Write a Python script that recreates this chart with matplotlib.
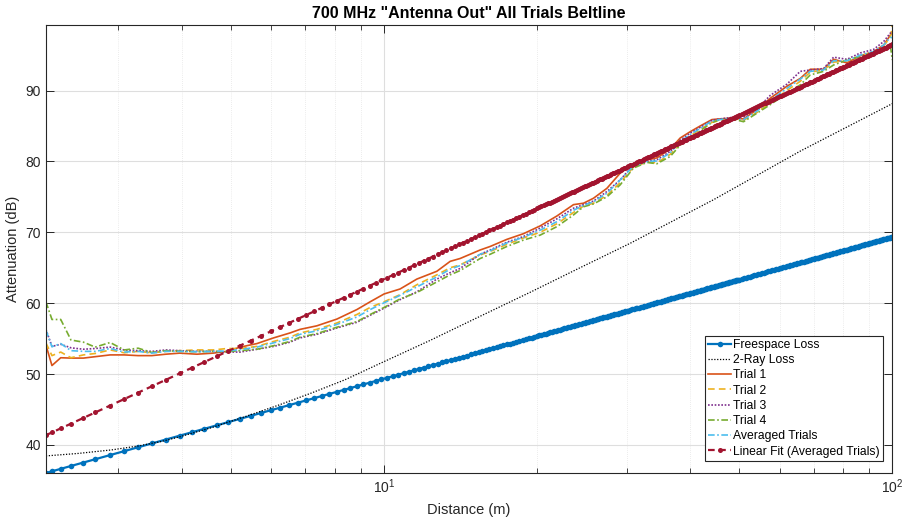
import matplotlib
matplotlib.use("Agg")
import matplotlib.pyplot as plt
from matplotlib.ticker import NullLocator, LogLocator

plt.rcParams['font.family'] = ['Liberation Sans', 'DejaVu Sans']
plt.rcParams['mathtext.fontset'] = 'custom'
plt.rcParams['mathtext.rm'] = 'Liberation Sans'

# ---------------- data ----------------
# sample distances (m) of the model curves and of the linear fit (part A)
model_dist = [
    2.16, 2.22, 2.31, 2.42, 2.56, 2.70, 2.89, 3.08, 3.28, 3.49, 3.72, 3.96, 4.19, 4.42,
    4.68, 4.94, 5.20, 5.46, 5.72, 5.98, 6.24, 6.50, 6.76, 7.02, 7.28, 7.54, 7.80, 8.06,
    8.32, 8.58, 8.84, 9.10, 9.36, 9.62, 9.88, 10.14, 10.40, 10.66, 10.92, 11.18, 11.44,
    11.70, 11.96, 12.22, 12.48, 12.74, 13.00,
    13.26, 13.52, 13.78, 14.04, 14.30, 14.56, 14.82, 15.08, 15.34, 15.60, 15.86, 16.12,
    16.38, 16.64, 16.90, 17.16, 17.42, 17.68, 17.94, 18.20, 18.46, 18.72, 18.98, 19.24,
    19.50, 19.76, 20.02,
    20.4, 20.8, 21.2, 21.6, 22.0, 22.4, 22.8, 23.2, 23.6, 24.0, 24.4, 24.8, 25.2, 25.6,
    26.0, 26.4, 26.8, 27.2, 27.6, 28.0, 28.4, 28.8, 29.2, 29.6, 30.0,
    30.5, 31.0, 31.5, 32.0, 32.5, 33.0, 33.5, 34.0, 34.5, 35.0, 35.5, 36.0, 36.5, 37.0,
    37.5, 38.0, 38.5, 39.0, 39.5, 40.0, 40.5, 41.0, 41.5, 42.0, 42.5, 43.0, 43.5, 44.0,
    44.5, 45.0, 45.5, 46.0, 46.5, 47.0, 47.5, 48.0, 48.5, 49.0, 49.5, 50.0,
    51, 52, 53, 54, 55, 56, 57, 58, 59, 60, 61, 62, 63, 64, 65, 66, 67, 68, 69, 70,
    71, 72, 73, 74, 75, 76, 77, 78, 79, 80, 81, 82, 83, 84, 85, 86, 87, 88, 89, 90,
    91, 92, 93, 94, 95, 96, 97, 98, 99, 100,
]

freespace_db = [
    36.04, 36.28, 36.62, 37.03, 37.51, 37.98, 38.57, 39.12, 39.67, 40.21, 40.76, 41.30, 41.79, 42.26,
    42.75, 43.22, 43.67, 44.09, 44.50, 44.88, 45.25, 45.61, 45.95, 46.28, 46.59, 46.90, 47.19, 47.48,
    47.75, 48.02, 48.28, 48.53, 48.78, 49.01, 49.25, 49.47, 49.69, 49.91, 50.11, 50.32, 50.52,
    50.71, 50.90, 51.09, 51.27, 51.45, 51.63,
    51.80, 51.97, 52.14, 52.30, 52.46, 52.61, 52.77, 52.92, 53.07, 53.21, 53.36, 53.50,
    53.64, 53.77, 53.91, 54.04, 54.17, 54.30, 54.43, 54.55, 54.67, 54.80, 54.92, 55.03,
    55.15, 55.27, 55.38,
    55.54, 55.71, 55.88, 56.04, 56.20, 56.36, 56.51, 56.66, 56.81, 56.95, 57.10, 57.24, 57.38, 57.51,
    57.65, 57.78, 57.91, 58.04, 58.17, 58.29, 58.42, 58.54, 58.66, 58.78, 58.89,
    59.04, 59.18, 59.32, 59.45, 59.59, 59.72, 59.85, 59.98, 60.11, 60.23, 60.35, 60.48, 60.60, 60.71,
    60.83, 60.95, 61.06, 61.17, 61.28, 61.39, 61.50, 61.61, 61.71, 61.82, 61.92, 62.02, 62.12, 62.22,
    62.32, 62.41, 62.51, 62.61, 62.70, 62.79, 62.88, 62.97, 63.06, 63.15, 63.24, 63.33,
    63.50, 63.67, 63.84, 64.00, 64.16, 64.31, 64.47, 64.62, 64.77, 64.91, 65.06, 65.20, 65.34, 65.47,
    65.61, 65.74, 65.87, 66.00, 66.13, 66.25,
    66.38, 66.50, 66.62, 66.73, 66.85, 66.97, 67.08, 67.19, 67.30, 67.41, 67.52, 67.63, 67.73, 67.84,
    67.94, 68.04, 68.14, 68.24, 68.34, 68.43,
    68.53, 68.63, 68.72, 68.81, 68.90, 69.00, 69.09, 69.17, 69.26, 69.35,
]

fit_db = [
    41.37, 41.76, 42.34, 43.00, 43.81, 44.58, 45.56, 46.47, 47.38, 48.27, 49.19, 50.08, 50.90, 51.66,
    52.49, 53.26, 54.00, 54.70, 55.37, 56.01, 56.62, 57.21, 57.77, 58.31, 58.84, 59.34, 59.83, 60.30,
    60.76, 61.20, 61.63, 62.04, 62.45, 62.84, 63.23, 63.60, 63.96, 64.32, 64.67, 65.00, 65.33,
    65.66, 65.97, 66.28, 66.58, 66.88, 67.17,
    67.46, 67.74, 68.01, 68.28, 68.54, 68.80, 69.05, 69.31, 69.55, 69.79, 70.03, 70.26,
    70.49, 70.72, 70.94, 71.16, 71.38, 71.59, 71.80, 72.01, 72.21, 72.41, 72.61, 72.81,
    73.00, 73.19, 73.38,
    73.65, 73.93, 74.20, 74.47, 74.73, 74.99, 75.25, 75.50, 75.74, 75.98, 76.22, 76.46, 76.69, 76.91,
    77.14, 77.35, 77.57, 77.78, 77.99, 78.20, 78.40, 78.61, 78.80, 79.00, 79.19,
    79.43, 79.66, 79.89, 80.12, 80.34, 80.56, 80.78, 80.99, 81.20, 81.41, 81.61, 81.81, 82.01, 82.21,
    82.40, 82.59, 82.78, 82.96, 83.15, 83.33, 83.51, 83.68, 83.86, 84.03, 84.20, 84.37, 84.53, 84.70,
    84.86, 85.02, 85.18, 85.34, 85.49, 85.65, 85.80, 85.95, 86.10, 86.25, 86.39, 86.54,
    86.82, 87.10, 87.37, 87.64, 87.91, 88.17, 88.42, 88.67, 88.92, 89.16, 89.39, 89.63, 89.86, 90.08,
    90.31, 90.53, 90.74, 90.96, 91.17, 91.37,
    91.58, 91.78, 91.98, 92.17, 92.36, 92.55, 92.74, 92.93, 93.11, 93.29, 93.47, 93.65, 93.82, 93.99,
    94.16, 94.33, 94.50, 94.66, 94.82, 94.99,
    95.14, 95.30, 95.46, 95.61, 95.76, 95.91, 96.06, 96.21, 96.36, 96.50,
]

# further samples in the dense far range (part B)
model_dist_b = [
    20.2, 20.6, 21.0, 21.4, 21.8, 22.2, 22.6, 23.0, 23.4, 23.8, 24.2, 24.6, 25.0, 25.4,
    25.8, 26.2, 26.6, 27.0, 27.4, 27.8, 28.2, 28.6, 29.0, 29.4, 29.8,
    30.25, 30.75, 31.25, 31.75, 32.25, 32.75, 33.25, 33.75, 34.25, 34.75, 35.25, 35.75,
    36.25, 36.75, 37.25, 37.75, 38.25, 38.75, 39.25, 39.75, 40.25, 40.75, 41.25, 41.75,
    42.25, 42.75, 43.25, 43.75, 44.25, 44.75, 45.25, 45.75, 46.25, 46.75, 47.25, 47.75,
    48.25, 48.75, 49.25, 49.75,
    50.5, 51.5, 52.5, 53.5, 54.5, 55.5, 56.5, 57.5, 58.5, 59.5, 60.5, 61.5, 62.5, 63.5,
    64.5, 65.5, 66.5, 67.5, 68.5, 69.5, 70.5, 71.5, 72.5, 73.5, 74.5, 75.5, 76.5, 77.5,
    78.5, 79.5, 80.5, 81.5, 82.5, 83.5, 84.5, 85.5, 86.5, 87.5, 88.5, 89.5, 90.5, 91.5,
    92.5, 93.5, 94.5, 95.5, 96.5, 97.5, 98.5, 99.5,
]
freespace_db_b = [
    55.46, 55.63, 55.79, 55.96, 56.12, 56.28, 56.43, 56.58, 56.73, 56.88, 57.03, 57.17, 57.31, 57.45,
    57.58, 57.72, 57.85, 57.98, 58.11, 58.23, 58.36, 58.48, 58.60, 58.72, 58.83,
    58.96, 59.11, 59.25, 59.38, 59.52, 59.65, 59.79, 59.92, 60.04, 60.17, 60.29, 60.42,
    60.54, 60.66, 60.77, 60.89, 61.00, 61.12, 61.23, 61.34, 61.45, 61.55, 61.66, 61.76,
    61.87, 61.97, 62.07, 62.17, 62.27, 62.37, 62.46, 62.56, 62.65, 62.75, 62.84, 62.93,
    63.02, 63.11, 63.20, 63.29,
    63.42, 63.59, 63.75, 63.92, 64.08, 64.24, 64.39, 64.54, 64.69, 64.84, 64.99, 65.13, 65.27, 65.41,
    65.54, 65.67, 65.81, 65.94, 66.06, 66.19, 66.31, 66.44, 66.56, 66.68, 66.79, 66.91, 67.02, 67.14,
    67.25, 67.36, 67.47, 67.57, 67.68, 67.78, 67.89, 67.99, 68.09, 68.19, 68.29, 68.39, 68.48, 68.58,
    68.67, 68.77, 68.86, 68.95, 69.04, 69.13, 69.22, 69.31,
]
fit_db_b = [
    73.51, 73.79, 74.07, 74.34, 74.60, 74.86, 75.12, 75.37, 75.62, 75.86, 76.10, 76.34, 76.57, 76.80,
    77.02, 77.25, 77.46, 77.68, 77.89, 78.10, 78.30, 78.51, 78.71, 78.90, 79.10,
    79.31, 79.55, 79.78, 80.01, 80.23, 80.45, 80.67, 80.89, 81.10, 81.31, 81.51, 81.71,
    81.91, 82.11, 82.30, 82.50, 82.69, 82.87, 83.06, 83.24, 83.42, 83.60, 83.77, 83.94,
    84.11, 84.28, 84.45, 84.62, 84.78, 84.94, 85.10, 85.26, 85.42, 85.57, 85.72, 85.87,
    86.02, 86.17, 86.32, 86.46,
    86.68, 86.96, 87.24, 87.51, 87.77, 88.04, 88.29, 88.55, 88.79, 89.04, 89.28, 89.51, 89.74, 89.97,
    90.20, 90.42, 90.64, 90.85, 91.06, 91.27, 91.48, 91.68, 91.88, 92.07, 92.27, 92.46, 92.65, 92.84,
    93.02, 93.20, 93.38, 93.56, 93.73, 93.91, 94.08, 94.25, 94.42, 94.58, 94.74, 94.91, 95.07, 95.22,
    95.38, 95.53, 95.69, 95.84, 95.99, 96.14, 96.28, 96.43,
]

tworay_dist = [2.16, 2.50, 2.91, 3.28, 3.65, 3.94, 4.58, 5.33, 6.19, 7.21, 8.38, 9.82,
               12.32, 15.45, 19.4, 24.3, 30.5, 44.5, 65.9, 100]
tworay_db = [38.45, 38.8, 39.3, 39.85, 40.5, 41.1, 42.45, 44.0, 45.6, 47.35, 49.2, 51.5,
             54.75, 58.15, 61.55, 65.0, 68.45, 74.6, 81.45, 88.15]

trial_dist = [2.16, 2.22, 2.31, 2.42, 2.56, 2.70, 2.89, 3.08, 3.28, 3.49, 3.72, 3.96, 4.28,
              4.61, 4.90, 5.21, 5.62, 6.06, 6.53, 6.83, 7.37, 8.07, 8.84, 9.39, 10.0, 10.75,
              11.6, 12.7, 13.49, 14.11, 15.45, 16.17, 17.44, 18.8, 20.28, 21.88, 23.59, 24.68,
              25.82, 27.44, 29.15, 30.95, 32.89, 34.42, 36.56, 38.25, 40.05, 41.88, 44.17,
              45.86, 48.34, 50.97, 54.16, 57.5, 62.03, 65.9, 68.96, 73.24, 76.64, 81.43, 86.49,
              91.88, 96.14, 99.11, 100.0]
trial1 = [54.1, 51.2, 52.3, 52.25, 52.25, 52.45, 52.7, 52.7, 52.6, 52.6, 52.8, 52.95, 52.8,
          52.95, 53.2, 53.8, 54.3, 55.1, 55.8, 56.3, 56.8, 57.75, 59.1, 60.2, 61.3, 62.0,
          63.4, 64.5, 65.9, 66.3, 67.5, 68.0, 69.0, 69.8, 70.9, 72.3, 73.9, 74.1,
          74.8, 76.2, 78.35, 79.7, 80.2, 80.5, 81.75, 83.3, 84.2, 85.0, 85.9,
          86.0, 86.1, 86.0, 87.3, 88.9, 90.6, 91.7, 93.0, 93.0, 94.4, 93.9, 94.9,
          95.5, 96.4, 97.8, 98.3]
trial2 = [54.4, 52.6, 53.1, 52.3, 52.7, 52.9, 53.4, 53.0, 53.2, 53.0, 53.2, 53.3, 53.4,
          53.4, 53.6, 53.6, 53.9, 54.6, 55.2, 55.8, 56.3, 57.2, 58.4, 59.4, 60.2, 61.2,
          62.6, 64.0, 65.0, 65.4, 66.8, 67.3, 68.3, 69.2, 70.0, 71.2, 72.8, 73.7,
          74.1, 75.2, 77.0, 79.2, 79.9, 79.8, 81.0, 82.5, 83.6, 84.5, 85.5,
          85.8, 86.1, 85.8, 86.9, 88.3, 90.0, 91.3, 92.6, 92.9, 94.0, 94.2, 94.9,
          95.4, 96.3, 97.5, 99.2]
trial3 = [56.3, 53.9, 54.2, 53.7, 53.5, 53.6, 53.8, 53.4, 53.3, 53.2, 53.4, 53.3, 53.2,
          53.2, 53.1, 53.1, 53.5, 53.9, 54.5, 55.1, 55.6, 56.5, 57.3, 58.3, 59.3, 60.5,
          61.6, 63.4, 64.3, 64.9, 66.9, 67.5, 68.6, 69.4, 70.6, 71.9, 73.4, 73.9,
          74.4, 75.75, 77.4, 79.5, 80.0, 80.24, 81.4, 83.0, 84.0, 84.8, 85.8,
          86.0, 86.2, 86.3, 87.4, 89.3, 90.9, 92.7, 92.9, 93.1, 94.7, 94.4, 95.3,
          95.8, 96.9, 98.1, 98.0]
trial4 = [60.2, 57.7, 57.7, 54.8, 54.5, 53.8, 54.45, 53.4, 53.65, 53.05, 53.3, 53.2, 53.15,
          53.2, 53.15, 53.3, 53.5, 54.0, 54.6, 55.2, 55.7, 56.6, 57.4, 58.4, 59.4, 60.6,
          61.5, 63.0, 64.0, 64.6, 66.3, 66.9, 68.0, 68.9, 69.6, 70.8, 72.45, 73.6,
          74.0, 75.0, 76.7, 79.06, 79.86, 79.67, 80.7, 82.3, 83.3, 84.3, 85.5,
          85.9, 86.0, 85.6, 86.8, 88.0, 89.6, 90.8, 92.2, 92.7, 93.6, 94.3, 94.8,
          95.35, 96.0, 96.4, 94.3]
avg_trials = [56.2, 53.85, 54.3, 53.3, 53.2, 53.2, 53.6, 53.1, 53.2, 52.95, 53.2, 53.2, 53.15,
              53.2, 53.25, 53.45, 53.8, 54.4, 55.0, 55.6, 56.1, 57.0, 58.05, 59.1, 60.05, 61.1,
              62.3, 63.7, 64.8, 65.3, 66.9, 67.4, 68.5, 69.3, 70.3, 71.5, 73.1, 73.8,
              74.3, 75.5, 77.4, 79.35, 80.0, 80.05, 81.2, 82.8, 83.8, 84.65, 85.7,
              85.9, 86.1, 85.9, 87.1, 88.6, 90.3, 91.6, 92.7, 92.9, 94.2, 94.2, 95.0,
              95.5, 96.4, 97.5, 97.45]

labels = ["Freespace Loss", "2-Ray Loss", "Trial 1", "Trial 2", "Trial 3", "Trial 4",
          "Averaged Trials", "Linear Fit (Averaged Trials)"]
title = '700 MHz "Antenna Out" All Trials Beltline'

# merge the two sample sets of the model curves, ordered by distance
assert len(model_dist) == len(freespace_db) == len(fit_db)
assert len(model_dist_b) == len(freespace_db_b) == len(fit_db_b)
merged = sorted(zip(model_dist + model_dist_b,
                    freespace_db + freespace_db_b,
                    fit_db + fit_db_b))
m_dist = [r[0] for r in merged]
m_fs = [r[1] for r in merged]
m_fit = [r[2] for r in merged]

# ---------------- figure ----------------
fig = plt.figure(figsize=(9.04, 5.2), dpi=100)
ax = fig.add_axes([45.7 / 904, 47 / 520, 846.6 / 904, 447.7 / 520])

ax.plot(m_dist, m_fs, '-', marker='o', ms=4.0, mew=0, lw=1.6,
        color='#0072BD', label=labels[0])
ax.plot(tworay_dist, tworay_db, color='black', lw=0.9, ls=(0, (1, 1.3)), label=labels[1])
ax.plot(trial_dist, trial1, '-', color='#D95319', lw=1.2, label=labels[2])
ax.plot(trial_dist, trial2, color='#EDB120', lw=1.2, ls=(0, (4, 2.5)), label=labels[3])
ax.plot(trial_dist, trial3, color='#7E2F8E', lw=1.2, ls=(0, (1, 1)), label=labels[4])
ax.plot(trial_dist, trial4, color='#77AC30', lw=1.2, ls=(0, (4, 1.5, 1, 1.5)), label=labels[5])
ax.plot(trial_dist, avg_trials, color='#4DBEEE', lw=1.2, ls=(0, (4, 1.5, 1, 1.5)), label=labels[6])
ax.plot(m_dist, m_fit, marker='o', ms=3.6, mew=0, lw=1.6, ls=(0, (3, 2)),
        color='#A2142F', label=labels[7])

ax.set_xscale('log')
ax.set_xlim(2.158, 100)
ax.set_ylim(36.04, 99.2)
ax.set_yticks([40, 50, 60, 70, 80, 90])
ax.yaxis.set_minor_locator(NullLocator())
ax.xaxis.set_major_locator(LogLocator(base=10))
ax.xaxis.set_minor_locator(LogLocator(base=10, subs=(2, 3, 4, 5, 6, 7, 8, 9)))

tc = '#262626'
ax.tick_params(which='both', direction='in', top=True, right=True, colors=tc,
               labelsize=10)
ax.tick_params(which='major', length=5.5, width=0.7)
ax.tick_params(which='minor', length=3.6, width=0.6)
for s in ax.spines.values():
    s.set_color(tc)
    s.set_linewidth(0.8)

ax.set_axisbelow(True)
ax.grid(True, which='major', color='#dedede', lw=0.8, ls='-')
ax.grid(True, which='minor', axis='x', color='#dadada', lw=0.5, ls=(0, (1, 2)))

ax.set_xlabel('Distance (m)', fontsize=10.5, color=tc, labelpad=5)
ax.set_ylabel('Attenuation (dB)', fontsize=10.5, color=tc, labelpad=4)
ax.set_title(title, fontsize=11.5, fontweight='bold', color='black', pad=5)

leg = ax.legend(loc='lower right', bbox_to_anchor=(0.9887, 0.0275), borderaxespad=0,
                fontsize=8.7, fancybox=False, framealpha=1, edgecolor=tc,
                handlelength=1.9, handletextpad=0.15, labelspacing=0.27,
                borderpad=0.25, numpoints=1)
leg.get_frame().set_linewidth(0.8)

fig.savefig('out.png', dpi=100)
